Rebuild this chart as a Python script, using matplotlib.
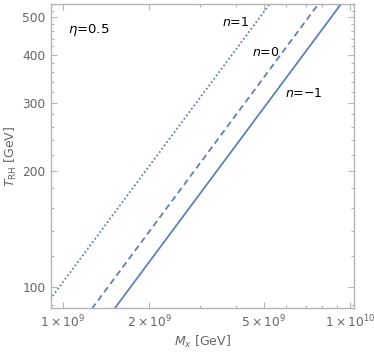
import matplotlib
matplotlib.use("Agg")
import matplotlib.pyplot as plt
from matplotlib.ticker import FixedLocator, NullFormatter, FixedFormatter

plt.rcParams['font.family'] = ['DejaVu Sans']
plt.rcParams['mathtext.fontset'] = 'dejavusans'

# Data: M_x [GeV] -> T_RH [GeV]
m_n_minus1 = [1.5e9, 1.0e10]
t_n_minus1 = [87.2, 581.0]
m_n0 = [1.2e9, 1.0e10]
t_n0 = [83.6, 697.0]
m_n1 = [8.0e8, 6.0e9]
t_n1 = [82.4, 618.0]

x_major = [1e9, 2e9, 5e9, 1e10]
x_major_labels = [r'$1\times10^{9}$', r'$2\times10^{9}$', r'$5\times10^{9}$', r'$1\times10^{10}$']
x_minor = [3e9, 4e9, 6e9, 7e9, 8e9, 9e9]
y_major = [100, 200, 300, 400, 500]
y_minor = [90, 120, 140, 160, 180, 220, 240, 260, 280, 320, 340, 360, 380,
           420, 440, 460, 480, 520, 540]

color = '#5E81B5'
gray = '#666666'
frame = '#b5b5b5'

fig = plt.figure(figsize=(3.74, 3.54), dpi=100)
ax = fig.add_axes([51/374, 1-308/354, 303/374, 304/354])
ax.set_xscale('log')
ax.set_yscale('log')

ax.plot(m_n_minus1, t_n_minus1, color=color, lw=1.3, ls='-')
ax.plot(m_n0, t_n0, color=color, lw=1.3, ls=(0, (3.5, 2.2)))
ax.plot(m_n1, t_n1, color=color, lw=1.3, ls=(0, (1.0, 1.3)))

ax.set_xlim(9.08e8, 1.033e10)
ax.set_ylim(88.2, 541)

ax.xaxis.set_major_locator(FixedLocator(x_major))
ax.xaxis.set_major_formatter(FixedFormatter(x_major_labels))
ax.xaxis.set_minor_locator(FixedLocator(x_minor))
ax.xaxis.set_minor_formatter(NullFormatter())
ax.yaxis.set_major_locator(FixedLocator(y_major))
ax.yaxis.set_major_formatter(FixedFormatter([str(v) for v in y_major]))
ax.yaxis.set_minor_locator(FixedLocator(y_minor))
ax.yaxis.set_minor_formatter(NullFormatter())

for s in ax.spines.values():
    s.set_color(frame)
    s.set_linewidth(1.0)
ax.tick_params(which='both', direction='in', top=True, right=True,
               color=frame, labelcolor=gray, labelsize=8.8, width=0.8)
ax.tick_params(which='major', length=4, pad=4)
ax.tick_params(which='minor', length=2)

ax.set_xlabel(r'$M_x$ [GeV]', color=gray, fontsize=9, labelpad=3)
ax.set_ylabel(r'$T_{\rm RH}$ [GeV]', color=gray, fontsize=9, labelpad=2)

ax.text(0.056, 0.914, r'$\eta$=0.5', transform=ax.transAxes, fontsize=9.5,
        ha='left', va='center', color='black')
ax.text(0.564, 0.9375, r'$n$=1', transform=ax.transAxes, fontsize=9,
        ha='left', va='center', color='black')
ax.text(0.663, 0.842, r'$n$=0', transform=ax.transAxes, fontsize=9,
        ha='left', va='center', color='black')
ax.text(0.772, 0.707, r'$n$=−1', transform=ax.transAxes, fontsize=9,
        ha='left', va='center', color='black')

fig.savefig('out.png', dpi=100)
